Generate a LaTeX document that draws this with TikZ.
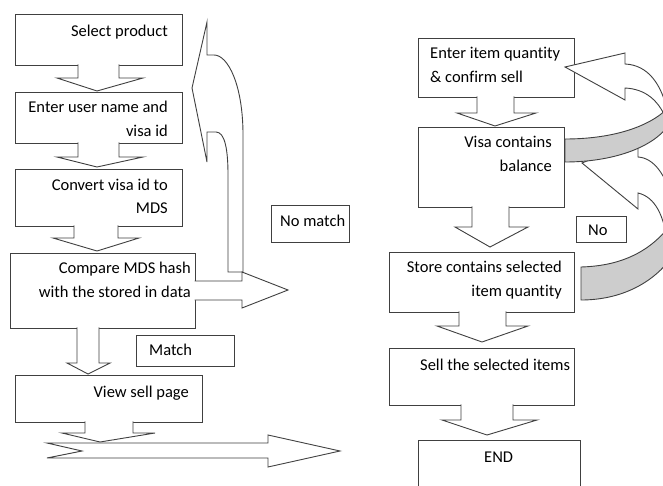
\documentclass[tikz,border=0pt]{standalone}
\usepackage{fontspec}
\setmainfont{Carlito}[Ligatures=NoCommon]
\definecolor{linecol}{RGB}{64,64,64}
\definecolor{bandgray}{RGB}{205,205,205}
% open block arrow pointing down: shaft x-range, top y, neck y, wing x-range, tip
\newcommand{\blockdown}[8]{%
  \filldraw[blk] (#1,#3) -- (#1,#4) -- (#5,#4) -- (#7,#8) -- (#6,#4) -- (#2,#4) -- (#2,#3);}
\begin{document}
\begin{tikzpicture}[x=1pt,y=-1pt,
  box/.style={draw=linecol, line width=0.9pt, fill=white, inner sep=0pt, outer sep=0pt, anchor=north west},
  blk/.style={draw=linecol, line width=0.9pt, fill=white, line join=miter},
  band/.style={draw=linecol, line width=0.9pt, fill=bandgray},
  lbl/.style={inner sep=0pt, font=\fontsize{16.5}{24}\selectfont, text=black}]
\useasboundingbox (0,0) rectangle (663,486);
\fill[white] (0,0) rectangle (663,486);
\clip (0,0) rectangle (663,486);

% ---------- left column ----------
\node[box, minimum width=167pt, minimum height=51pt] (b1) at (15,14) {};
\node[box, minimum width=167pt, minimum height=51pt] (b2) at (15,92) {};
\node[box, minimum width=167pt, minimum height=57pt] (b3) at (15,169) {};
\node[box, minimum width=185pt, minimum height=75pt] (b4) at (10,253) {};
\node[box, minimum width=187pt, minimum height=47pt] (b5) at (15,375) {};
\node[box, minimum width=98pt, minimum height=31pt] (match) at (136,335) {};
\node[box, minimum width=78pt, minimum height=37pt] (nomatch) at (271,205) {};

% flow arrows between the boxes
\blockdown{78}{119}{64.4}{78}{57}{143}{97}{91}
\blockdown{78}{119}{142.4}{157}{57}{143}{97}{167}
\blockdown{74}{118}{225.4}{238}{53}{139}{97}{251}
\blockdown{77}{99}{327.4}{363}{67}{110}{88}{374}

% long notched arrow at the bottom
\filldraw[blk] (47,443) -- (268,443) -- (268,435) -- (340,451) -- (268,467)
  -- (268,458) -- (47,458) -- (82,451) -- cycle;
\blockdown{85}{133}{421.4}{433}{62}{155}{100}{442}

% curved return arrow ("No match")
\filldraw[blk] (243,272) -- (243,135) .. controls (243,85) and (228,55) .. (214,55)
  -- (207,55) -- (207,22) -- (192,88) -- (207,162) -- (207,132) -- (216,132)
  .. controls (225,132) and (228,150) .. (228,175) -- (228,272) -- cycle;
% arrow leaving the compare box
\filldraw[blk] (194.5,281) -- (242,281) -- (242,272) -- (288,290) -- (242,308)
  -- (242,300) -- (194.5,300);

% ---------- right column ----------
\node[box, minimum width=156pt, minimum height=59pt] (r1) at (418,38) {};
\node[box, minimum width=146pt, minimum height=80pt] (r2) at (418,127) {};
\node[box, minimum width=185pt, minimum height=60pt] (r3) at (389,252) {};
\node[box, minimum width=185pt, minimum height=57pt] (r4) at (389,348) {};
\node[box, minimum width=162pt, minimum height=70pt] (r5) at (418,440) {};

\blockdown{477}{514}{96.4}{113}{457}{536}{495}{126}
\blockdown{472}{509}{206.4}{227}{455}{528}{490}{247}
\blockdown{459}{506}{311.4}{326}{437}{528}{482}{342}
\blockdown{461}{513}{404.4}{420}{442}{537}{487}{435}

% lower ribbon arrow (store check back to balance check)
\filldraw[blk] (672,200) .. controls (666,175) and (654,158) .. (638,157)
  -- (638,140) -- (582,163) -- (638,209) -- (638,193)
  .. controls (655,197) and (664,215) .. (668,245) -- cycle;
\filldraw[band] (581,267) .. controls (615,266) and (645,256) .. (668,228)
  -- (668,262) .. controls (650,284) and (620,300) .. (581,300) -- cycle;

% upper ribbon arrow (balance check back to quantity entry)
\filldraw[blk] (668,114) .. controls (662,84) and (648,65) .. (625,64)
  -- (625,53) -- (565,67) -- (625,100) -- (625,88)
  .. controls (645,89) and (660,100) .. (668,124) -- cycle;
\filldraw[band] (565,139) .. controls (610,139) and (648,128) .. (668,108)
  -- (668,126) .. controls (652,148) and (612,162) .. (565,162) -- cycle;

\node[box, minimum width=50pt, minimum height=26pt] (nobox) at (576,216) {};

% ---------- labels ----------
\node[lbl, anchor=base east] (t1) at (168,37) {Select product};
\node[lbl, anchor=base east] (t2a) at (168,113) {Enter user name and};
\node[lbl, anchor=base east] (t2b) at (168,137) {visa id};
\node[lbl, anchor=base east] (t3a) at (168,191) {Convert visa id to};
\node[lbl, anchor=base east] (t3b) at (168,214) {MDS};
\node[lbl, anchor=base east] (t4a) at (191,273) {Compare MDS hash};
\node[lbl, anchor=base east] (t4b) at (191,297) {with the stored in data};
\node[lbl, anchor=base west] (tm) at (149,355) {Match};
\node[lbl, anchor=base east] (t5) at (189,397) {View sell page};
\node[lbl, anchor=base west] (tnm) at (280,226) {No match};

\node[lbl, anchor=base west] (u1a) at (430,59) {Enter item quantity};
\node[lbl, anchor=base west] (u1b) at (430,83) {\& confirm sell};
\node[lbl, anchor=base east] (u2a) at (552,148) {Visa contains};
\node[lbl, anchor=base east] (u2b) at (552,172) {balance};
\node[lbl, anchor=base east] (u3a) at (562,272) {Store contains selected};
\node[lbl, anchor=base east] (u3b) at (562,296) {item quantity};
\node[lbl, anchor=base west] (u4) at (420,370) {Sell the selected items};
\node[lbl, anchor=base west] (u5) at (484,462) {END};
\node[lbl, anchor=base west] (tno) at (588,235) {No};
\end{tikzpicture}
\end{document}
